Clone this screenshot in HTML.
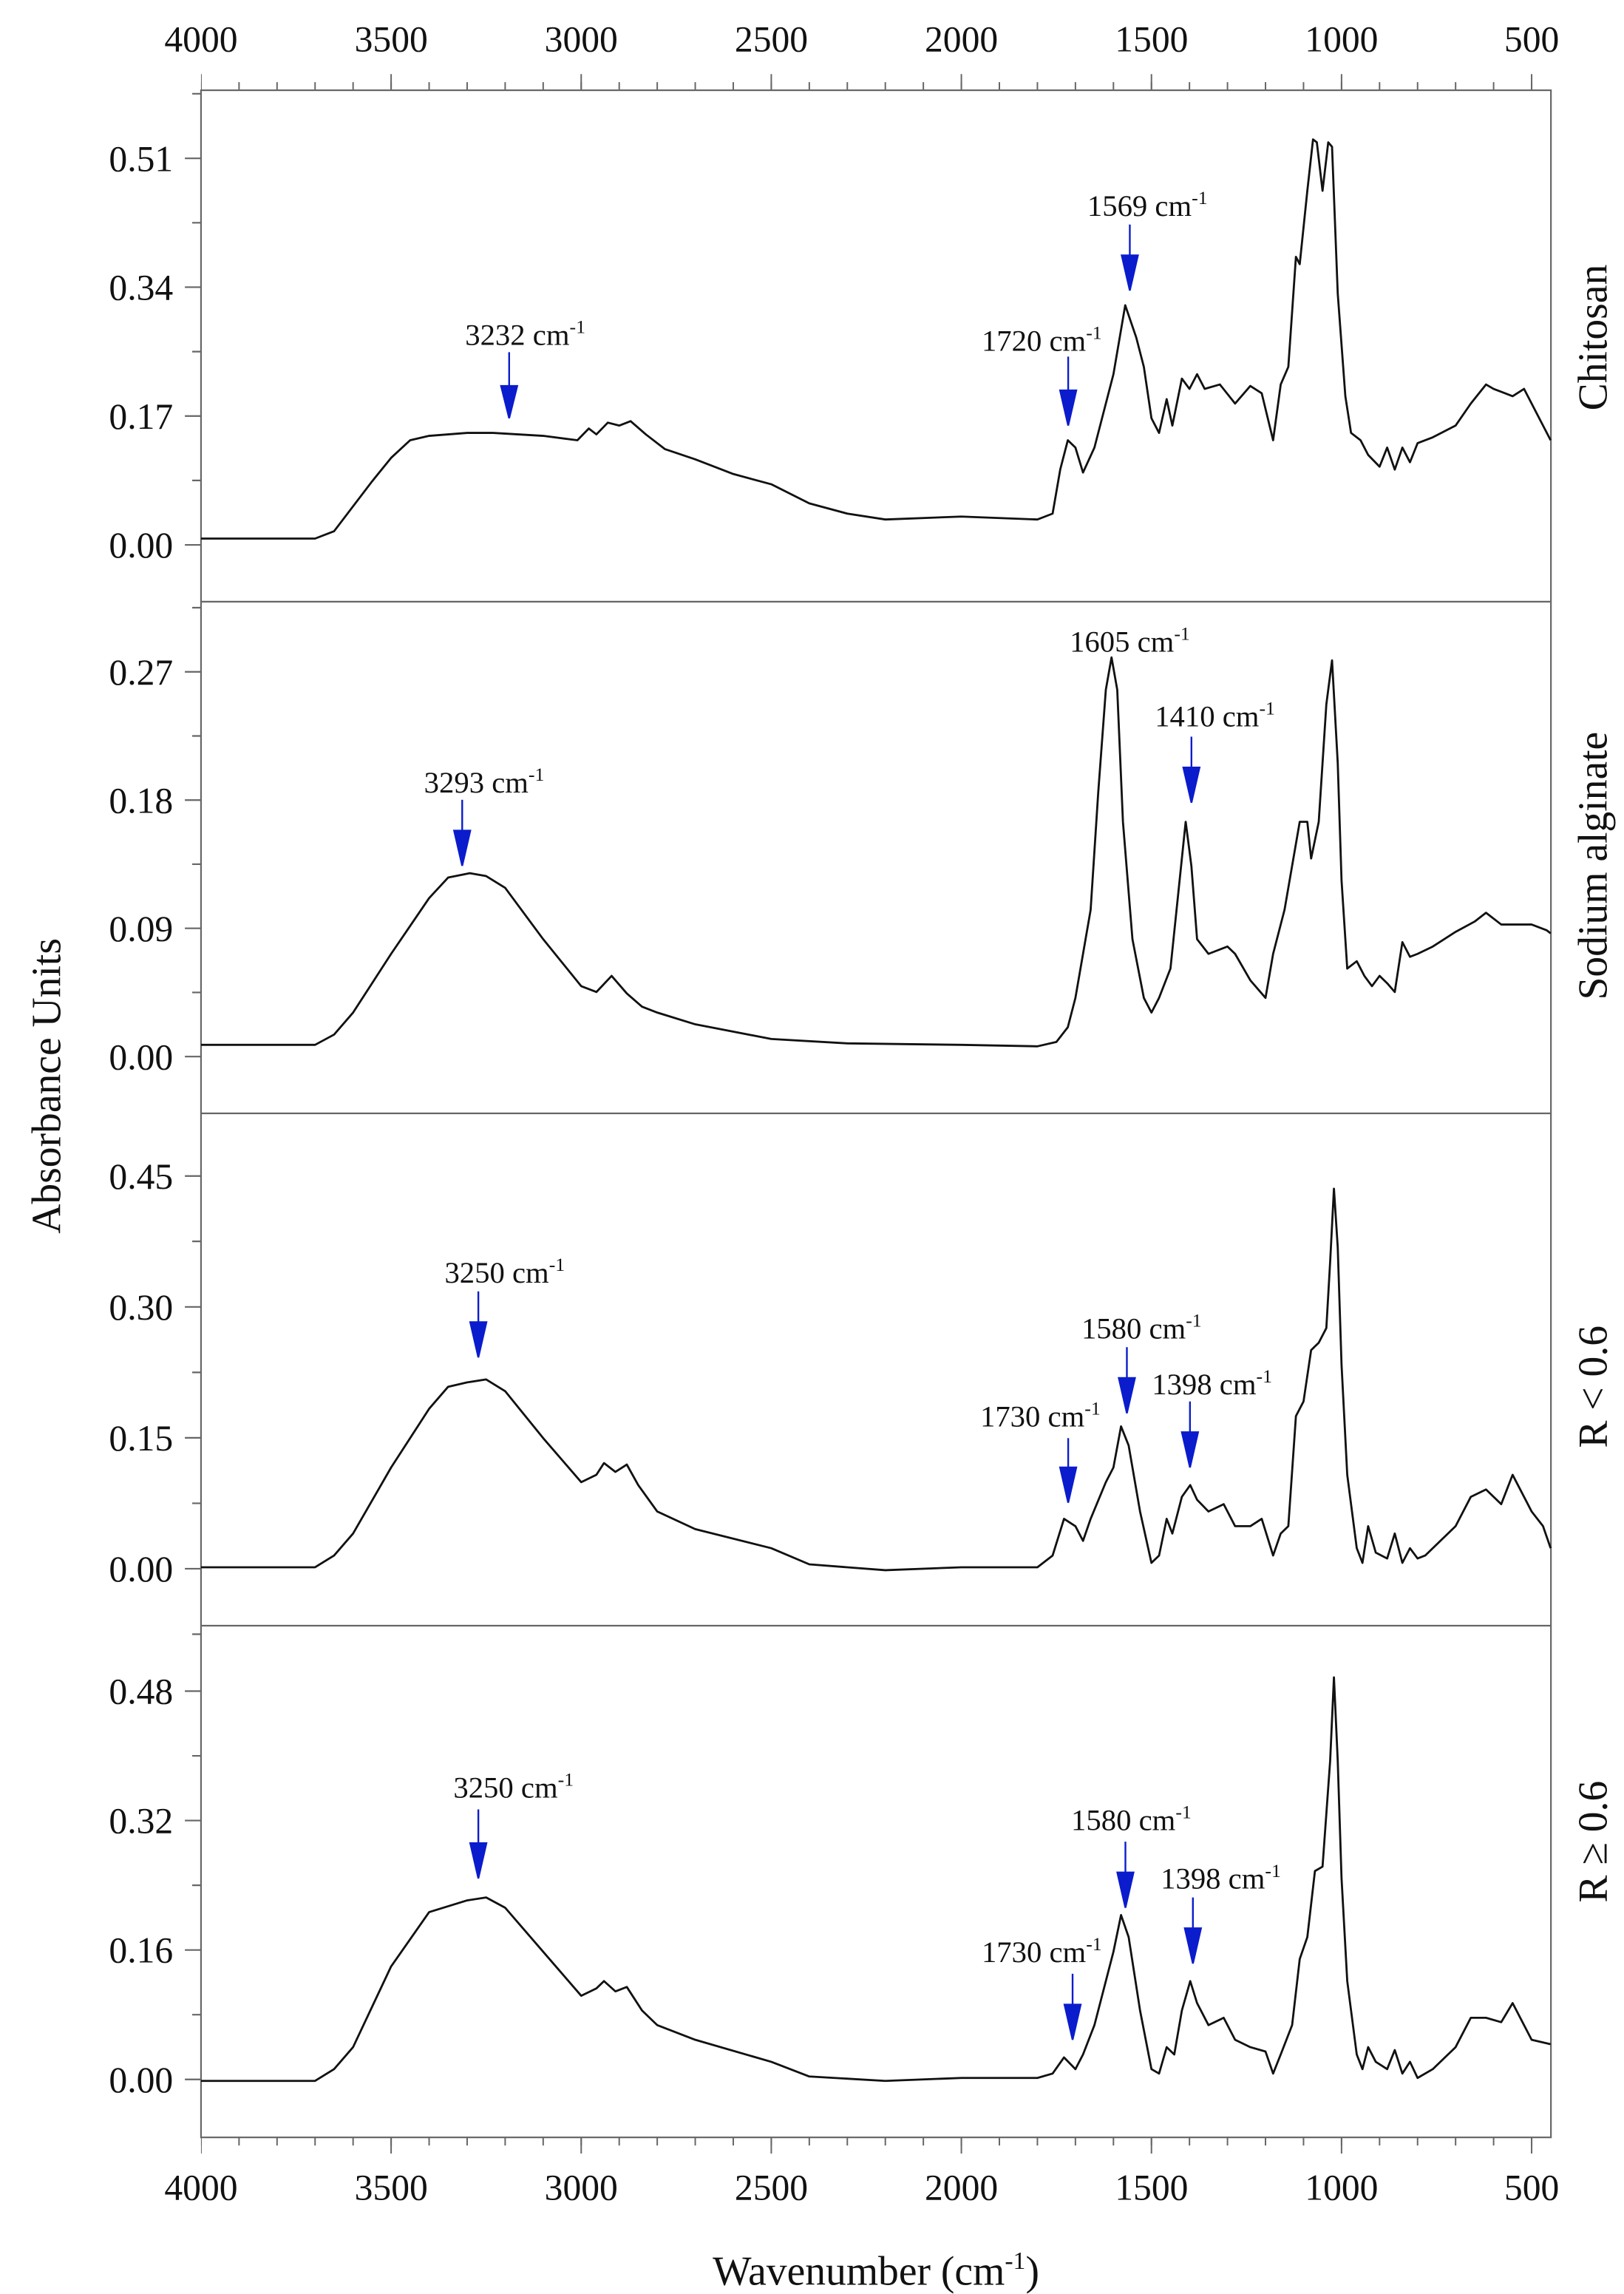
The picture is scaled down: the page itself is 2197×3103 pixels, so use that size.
<!DOCTYPE html>
<html><head><meta charset="utf-8"><style>
html,body{margin:0;padding:0;background:#fff;}
svg{display:block;}
text{font-family:"Liberation Serif",serif;fill:#111;}
</style></head><body>
<svg width="2197" height="3103" viewBox="0 0 2197 3103" xmlns="http://www.w3.org/2000/svg">
<rect width="2197" height="3103" fill="#fff"/>
<g transform="scale(1.985)">
<g stroke="#666" stroke-width="1.1" fill="none">
<rect x="137" y="61.5" width="920" height="1395"/>
<line x1="137" y1="410" x2="1057" y2="410"/>
<line x1="137" y1="758.7" x2="1057" y2="758.7"/>
<line x1="137" y1="1107.8" x2="1057" y2="1107.8"/>
<line x1="137" y1="58.75" x2="1057" y2="58.75" stroke-width="5.5" stroke-dasharray="1 24.91" stroke-dashoffset="0.5"/>
<line x1="137" y1="56" x2="1057" y2="56" stroke-width="11" stroke-dasharray="1 128.55" stroke-dashoffset="0.5"/>
<line x1="137" y1="1459.25" x2="1057" y2="1459.25" stroke-width="5.5" stroke-dasharray="1 24.91" stroke-dashoffset="0.5"/>
<line x1="137" y1="1462" x2="1057" y2="1462" stroke-width="11" stroke-dasharray="1 128.55" stroke-dashoffset="0.5"/>
<path d="M126 107.9H137M126 195.7H137M126 283.5H137M126 371.3H137M131 63.9H137M131 151.8H137M131 239.6H137M131 327.4H137
M126 457.8H137M126 545.2H137M126 632.6H137M126 720H137M131 414.1H137M131 501.5H137M131 588.9H137M131 676.3H137
M126 801.4H137M126 890.6H137M126 979.8H137M126 1069H137M131 845.9H137M131 935.2H137M131 1024.4H137M131 1113.6H137
M126 1152.4H137M126 1240.6H137M126 1328.8H137M126 1417H137M131 1196.5H137M131 1284.7H137M131 1372.9H137"/>
</g>
<g font-size="25" text-anchor="middle">
<text x="137" y="35">4000</text><text x="266.6" y="35">3500</text><text x="396.1" y="35">3000</text><text x="525.7" y="35">2500</text><text x="655.2" y="35">2000</text><text x="784.8" y="35">1500</text><text x="914.3" y="35">1000</text><text x="1043.9" y="35">500</text>
<text x="137" y="1499">4000</text><text x="266.6" y="1499">3500</text><text x="396.1" y="1499">3000</text><text x="525.7" y="1499">2500</text><text x="655.2" y="1499">2000</text><text x="784.8" y="1499">1500</text><text x="914.3" y="1499">1000</text><text x="1043.9" y="1499">500</text>
</g>
<g font-size="25" text-anchor="end">
<text x="118" y="116.5">0.51</text><text x="118" y="204.3">0.34</text><text x="118" y="292.1">0.17</text><text x="118" y="379.9">0.00</text>
<text x="118" y="466.4">0.27</text><text x="118" y="553.8">0.18</text><text x="118" y="641.2">0.09</text><text x="118" y="728.6">0.00</text>
<text x="118" y="810">0.45</text><text x="118" y="899.2">0.30</text><text x="118" y="988.4">0.15</text><text x="118" y="1077.6">0.00</text>
<text x="118" y="1161">0.48</text><text x="118" y="1249.2">0.32</text><text x="118" y="1337.4">0.16</text><text x="118" y="1425.6">0.00</text>
</g>
<text font-size="28" text-anchor="middle" transform="translate(41,740) rotate(-90)">Absorbance Units</text>
<text font-size="28" text-anchor="middle" x="597" y="1557">Wavenumber (cm<tspan font-size="17" dy="-11">-1</tspan><tspan dy="11">)</tspan></text>
<g font-size="28" text-anchor="middle">
<text transform="translate(1095,230) rotate(-90)">Chitosan</text>
<text transform="translate(1095,590) rotate(-90)">Sodium alginate</text>
<text transform="translate(1095,945) rotate(-90)">R &lt; 0.6</text>
<text transform="translate(1095,1255) rotate(-90)">R ≥ 0.6</text>
</g>
<g transform="matrix(-0.2591 0 0 1 1173.4 0)" fill="none" stroke="#111" stroke-width="2.8" stroke-linejoin="round">
<polyline vector-effect="non-scaling-stroke" points="4000,367 3700,367 3650,362 3600,345 3550,328 3500,312 3450,300 3400,297 3300,295 3232,295 3100,297 3010,300 2980,292 2960,296 2930,288 2900,290 2870,287 2830,296 2780,306 2700,313 2600,323 2500,330 2400,343 2300,350 2200,354 2000,352 1800,354 1760,350 1740,320 1720,300 1700,305 1680,322 1650,305 1600,255 1569,208 1540,230 1520,250 1500,285 1480,295 1460,272 1445,290 1420,258 1400,265 1380,255 1360,265 1320,262 1280,275 1240,263 1210,268 1180,300 1160,262 1140,250 1120,175 1110,180 1090,130 1075,95 1065,97 1050,130 1035,97 1025,100 1010,200 990,270 975,295 950,300 930,310 900,318 880,305 860,320 840,305 820,315 800,302 760,298 700,290 660,275 620,262 600,265 550,270 520,265 480,285 450,300"/>
<polyline vector-effect="non-scaling-stroke" points="4000,712 3700,712 3650,705 3600,690 3500,650 3400,612 3350,598 3293,595 3250,597 3200,605 3100,640 3000,672 2960,676 2920,665 2880,677 2840,686 2800,690 2700,698 2500,708 2300,711 2000,712 1800,713 1750,710 1720,700 1700,680 1660,620 1640,540 1620,470 1605,448 1590,470 1575,560 1550,640 1520,680 1500,690 1480,680 1450,660 1430,610 1410,560 1395,590 1380,640 1350,650 1300,645 1280,650 1240,668 1200,680 1180,650 1150,620 1130,590 1110,560 1090,560 1080,585 1060,560 1040,480 1025,450 1010,520 1000,600 985,660 960,655 940,665 920,672 900,665 880,670 860,676 840,642 820,652 800,650 760,645 700,635 650,628 620,622 580,630 500,630 460,634 450,636"/>
<polyline vector-effect="non-scaling-stroke" points="4000,1068 3700,1068 3650,1060 3600,1045 3500,1000 3400,960 3350,945 3300,942 3250,940 3200,948 3100,980 3000,1010 2960,1005 2940,997 2910,1003 2880,998 2850,1012 2800,1030 2700,1042 2500,1055 2400,1066 2200,1070 2000,1068 1800,1068 1760,1060 1730,1035 1700,1040 1680,1050 1660,1035 1620,1010 1600,1000 1580,972 1560,985 1530,1030 1500,1065 1480,1060 1460,1035 1445,1045 1420,1020 1398,1012 1380,1022 1350,1030 1310,1025 1280,1040 1240,1040 1210,1035 1180,1060 1160,1045 1140,1040 1120,965 1100,955 1080,920 1060,915 1040,905 1030,860 1020,810 1010,850 1000,930 985,1005 960,1055 945,1065 930,1040 910,1058 880,1062 860,1045 840,1065 820,1055 800,1062 780,1060 740,1050 700,1040 660,1020 620,1015 580,1025 550,1005 500,1030 470,1040 450,1055"/>
<polyline vector-effect="non-scaling-stroke" points="4000,1418 3700,1418 3650,1410 3600,1395 3500,1340 3400,1303 3300,1295 3250,1293 3200,1300 3100,1330 3000,1360 2960,1355 2940,1350 2910,1357 2880,1354 2840,1370 2800,1380 2700,1390 2500,1405 2400,1415 2200,1418 2000,1416 1800,1416 1760,1413 1730,1402 1700,1410 1680,1400 1650,1380 1620,1350 1600,1330 1580,1305 1560,1320 1530,1370 1500,1410 1480,1413 1460,1395 1440,1400 1420,1370 1398,1350 1380,1365 1350,1380 1310,1375 1280,1390 1240,1395 1200,1398 1180,1413 1160,1400 1130,1380 1110,1335 1090,1320 1070,1275 1050,1272 1030,1200 1020,1143 1010,1200 1000,1280 985,1350 960,1400 945,1410 930,1395 910,1405 880,1410 860,1397 840,1413 820,1405 800,1416 760,1410 700,1395 660,1375 620,1375 580,1378 550,1365 500,1390 450,1393"/>
</g>
<g stroke="#0a1ccc" stroke-width="1.2" fill="#0a1ccc">
<line x1="347" y1="240" x2="347" y2="265"/><polygon points="341.5,263 352.5,263 347,285"/>
<line x1="728" y1="243" x2="728" y2="268"/><polygon points="722.5,266 733.5,266 728,290"/>
<line x1="770" y1="153" x2="770" y2="176"/><polygon points="764.5,174 775.5,174 770,198"/>
<line x1="812" y1="502" x2="812" y2="525"/><polygon points="806.5,523 817.5,523 812,547"/>
<line x1="315" y1="545" x2="315" y2="568"/><polygon points="309.5,566 320.5,566 315,590"/>
<line x1="326" y1="880" x2="326" y2="903"/><polygon points="320.5,901 331.5,901 326,925"/>
<line x1="768" y1="918" x2="768" y2="941"/><polygon points="762.5,939 773.5,939 768,963"/>
<line x1="811" y1="955" x2="811" y2="978"/><polygon points="805.5,976 816.5,976 811,1000"/>
<line x1="728" y1="980" x2="728" y2="1002"/><polygon points="722.5,1000 733.5,1000 728,1024"/>
<line x1="326" y1="1233" x2="326" y2="1258"/><polygon points="320.5,1256 331.5,1256 326,1280"/>
<line x1="767" y1="1255" x2="767" y2="1278"/><polygon points="761.5,1276 772.5,1276 767,1300"/>
<line x1="813" y1="1293" x2="813" y2="1316"/><polygon points="807.5,1314 818.5,1314 813,1338"/>
<line x1="731" y1="1345" x2="731" y2="1368"/><polygon points="725.5,1366 736.5,1366 731,1390"/>
</g>
<g font-size="20.5" text-anchor="middle">
<text x="358" y="235">3232 cm<tspan font-size="13" dy="-8">-1</tspan></text>
<text x="710" y="239">1720 cm<tspan font-size="13" dy="-8">-1</tspan></text>
<text x="782" y="147">1569 cm<tspan font-size="13" dy="-8">-1</tspan></text>
<text x="770" y="444">1605 cm<tspan font-size="13" dy="-8">-1</tspan></text>
<text x="828" y="495">1410 cm<tspan font-size="13" dy="-8">-1</tspan></text>
<text x="330" y="540">3293 cm<tspan font-size="13" dy="-8">-1</tspan></text>
<text x="344" y="874">3250 cm<tspan font-size="13" dy="-8">-1</tspan></text>
<text x="778" y="912">1580 cm<tspan font-size="13" dy="-8">-1</tspan></text>
<text x="826" y="950">1398 cm<tspan font-size="13" dy="-8">-1</tspan></text>
<text x="709" y="972">1730 cm<tspan font-size="13" dy="-8">-1</tspan></text>
<text x="350" y="1225">3250 cm<tspan font-size="13" dy="-8">-1</tspan></text>
<text x="771" y="1247">1580 cm<tspan font-size="13" dy="-8">-1</tspan></text>
<text x="832" y="1287">1398 cm<tspan font-size="13" dy="-8">-1</tspan></text>
<text x="710" y="1337">1730 cm<tspan font-size="13" dy="-8">-1</tspan></text>
</g>
</g>
</svg>
</body></html>
